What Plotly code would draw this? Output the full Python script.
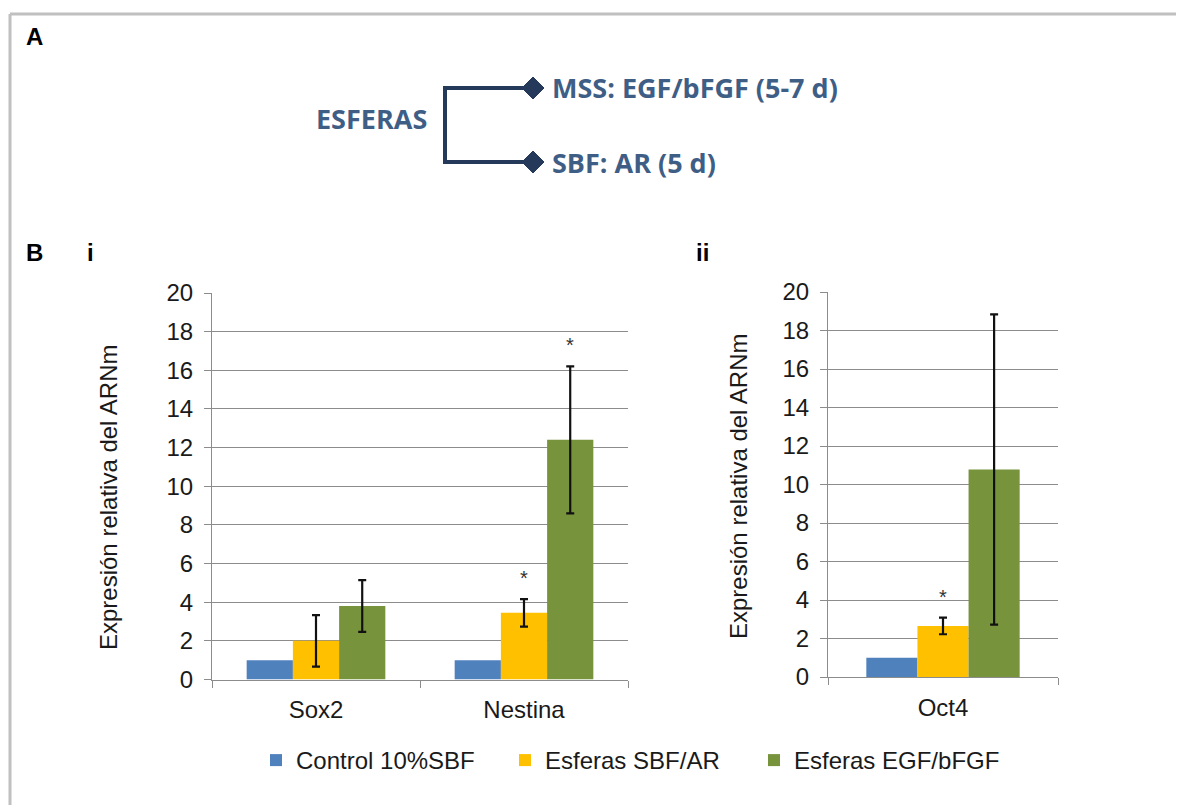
import plotly.graph_objects as go

W, H = 1184, 805
OX, OY = 8, 8  # page body margin compensation

# ---------------- data ----------------
series_names = ["Control 10%SBF", "Esferas SBF/AR", "Esferas EGF/bFGF"]
series_colors = ["#4F81BD", "#FFC000", "#77933C"]

genes_i = ["Sox2", "Nestina"]
vals_i = [[1.0, 1.0], [2.0, 3.45], [3.8, 12.4]]
errs_i = [[0.0, 0.0], [1.33, 0.71], [1.34, 3.8]]
stars_i = [[False, False], [False, True], [False, True]]

genes_ii = ["Oct4"]
vals_ii = [[1.0], [2.65], [10.78]]
errs_ii = [[0.0], [0.43], [8.06]]
stars_ii = [[False], [True], [False]]

y_ticks = list(range(0, 21, 2))
y_title = "Expresión relativa del ARNm"

diagram_root = "ESFERAS"
diagram_branches = ["MSS: EGF/bFGF (5-7 d)", "SBF: AR (5 d)"]

# ---------------- helpers ----------------
def px(x):
    return (x - OX) / W

def py(y):
    return 1 - (y - OY) / H

BARGAP = 1 / 3
FONT = "Liberation Sans, Arial, sans-serif"
GRID = "#8c8c8c"

fig = go.Figure()

def add_panel(genes, vals, errs, xa, ya, show):
    for k in range(3):
        has_err = any(e > 0 for e in errs[k])
        fig.add_trace(go.Bar(
            x=genes, y=vals[k], name=series_names[k],
            marker=dict(color=series_colors[k], line=dict(width=0)),
            error_y=dict(type="data", array=errs[k], visible=has_err,
                         color="#111111", thickness=2.2, width=4),
            xaxis=xa, yaxis=ya, showlegend=show, legendgroup=series_names[k],
        ))

add_panel(genes_i, vals_i, errs_i, "x", "y", True)
add_panel(genes_ii, vals_ii, errs_ii, "x2", "y2", False)

annotations = []

def add_stars(genes, vals, errs, stars, xref, yref):
    bw = (1 - BARGAP) / 3
    for k in range(3):
        for j, g in enumerate(genes):
            if stars[k][j]:
                annotations.append(dict(
                    x=j + (k - 1) * bw, y=vals[k][j] + errs[k][j],
                    xref=xref, yref=yref, text="*", showarrow=False,
                    yanchor="bottom", yshift=8,
                    font=dict(family=FONT, size=20, color="#333333")))

add_stars(genes_i, vals_i, errs_i, stars_i, "x", "y")
add_stars(genes_ii, vals_ii, errs_ii, stars_ii, "x2", "y2")

TICKFONT = dict(family=FONT, size=24, color="#1a1a1a")
axis_common_y = dict(range=[0, 20], tickvals=y_ticks, showgrid=True, gridcolor=GRID,
                     gridwidth=1, showline=True, linecolor=GRID, linewidth=1,
                     ticks="outside", ticklen=7, tickcolor=GRID, zeroline=False,
                     tickfont=TICKFONT, ticklabelstandoff=6, fixedrange=True,
                     automargin=False)
axis_common_x = dict(showline=True, linecolor=GRID, linewidth=1, ticks="outside",
                     tickson="boundaries", ticklen=7, tickcolor=GRID, showgrid=False,
                     tickfont=TICKFONT, ticklabelstandoff=9, fixedrange=True,
                     automargin=False)

fig.update_layout(
    template="none",
    width=W, height=H,
    margin=dict(l=0, r=0, t=0, b=0, pad=0, autoexpand=False),
    paper_bgcolor="white", plot_bgcolor="white",
    barmode="group", bargap=BARGAP, bargroupgap=0,
    xaxis=dict(domain=[px(212), px(628)], anchor="y", **axis_common_x),
    yaxis=dict(domain=[py(679.5), py(293)], anchor="x", **axis_common_y),
    xaxis2=dict(domain=[px(828), px(1058)], anchor="y2", **axis_common_x),
    yaxis2=dict(domain=[py(677), py(292)], anchor="x2", **axis_common_y),
    legend=dict(orientation="h", x=px(256), y=py(738), xanchor="left", yanchor="top",
                entrywidthmode="pixels", entrywidth=204, itemwidth=30,
                font=dict(family=FONT, size=24, color="#1a1a1a"),
                bgcolor="rgba(0,0,0,0)"),
)

# axis titles
annotations.append(dict(x=px(108), y=py(498), xref="paper", yref="paper", text=y_title,
                        textangle=-90, showarrow=False, xanchor="center", yanchor="middle",
                        font=dict(family=FONT, size=24, color="#1a1a1a")))
annotations.append(dict(x=px(738), y=py(487), xref="paper", yref="paper", text=y_title,
                        textangle=-90, showarrow=False, xanchor="center", yanchor="middle",
                        font=dict(family=FONT, size=24, color="#1a1a1a")))

# panel labels
for txt, x, y in [("A", 34, 36), ("B", 34, 252), ("i", 90, 252), ("ii", 702, 252)]:
    annotations.append(dict(x=px(x), y=py(y), xref="paper", yref="paper", text=f"<b>{txt}</b>",
                            showarrow=False, xanchor="center", yanchor="middle",
                            font=dict(family=FONT, size=24, color="#000000")))

# diagram A
TXT_BLUE = "#3f5e86"
LINE_BLUE = "#25395a"
annotations.append(dict(x=px(371), y=py(118), xref="paper", yref="paper",
                        text=f"<b>{diagram_root}</b>", showarrow=False,
                        xanchor="center", yanchor="middle",
                        font=dict(family="Open Sans, sans-serif", size=27, color=TXT_BLUE)))
branch_y = [88, 162]
for t, yy in zip(diagram_branches, branch_y):
    annotations.append(dict(x=px(550), y=py(yy), xref="paper", yref="paper",
                            text=f"<b>{t}</b>", showarrow=False,
                            xanchor="left", yanchor="middle",
                            font=dict(family="Open Sans, sans-serif", size=27, color=TXT_BLUE)))

shapes = []
# figure border (top and left)
shapes.append(dict(type="line", xref="paper", yref="paper", x0=px(10), x1=1, y0=py(14), y1=py(14),
                   line=dict(color="#c0c0c0", width=3)))
shapes.append(dict(type="line", xref="paper", yref="paper", x0=px(10), x1=px(10), y0=py(14), y1=0,
                   line=dict(color="#c0c0c0", width=3)))
# bracket
shapes.append(dict(type="path", xref="paper", yref="paper",
                   path=f"M {px(528)},{py(88)} L {px(445)},{py(88)} L {px(445)},{py(162)} L {px(528)},{py(162)}",
                   line=dict(color=LINE_BLUE, width=4)))
for yy in branch_y:
    cx, cy, r = 533, yy, 11
    shapes.append(dict(type="path", xref="paper", yref="paper",
                       path=f"M {px(cx - r)},{py(cy)} L {px(cx)},{py(cy - r)} L {px(cx + r)},{py(cy)} L {px(cx)},{py(cy + r)} Z",
                       fillcolor=LINE_BLUE, line=dict(color=LINE_BLUE, width=1)))

fig.update_layout(annotations=annotations, shapes=shapes)

fig.write_html("out.html")
